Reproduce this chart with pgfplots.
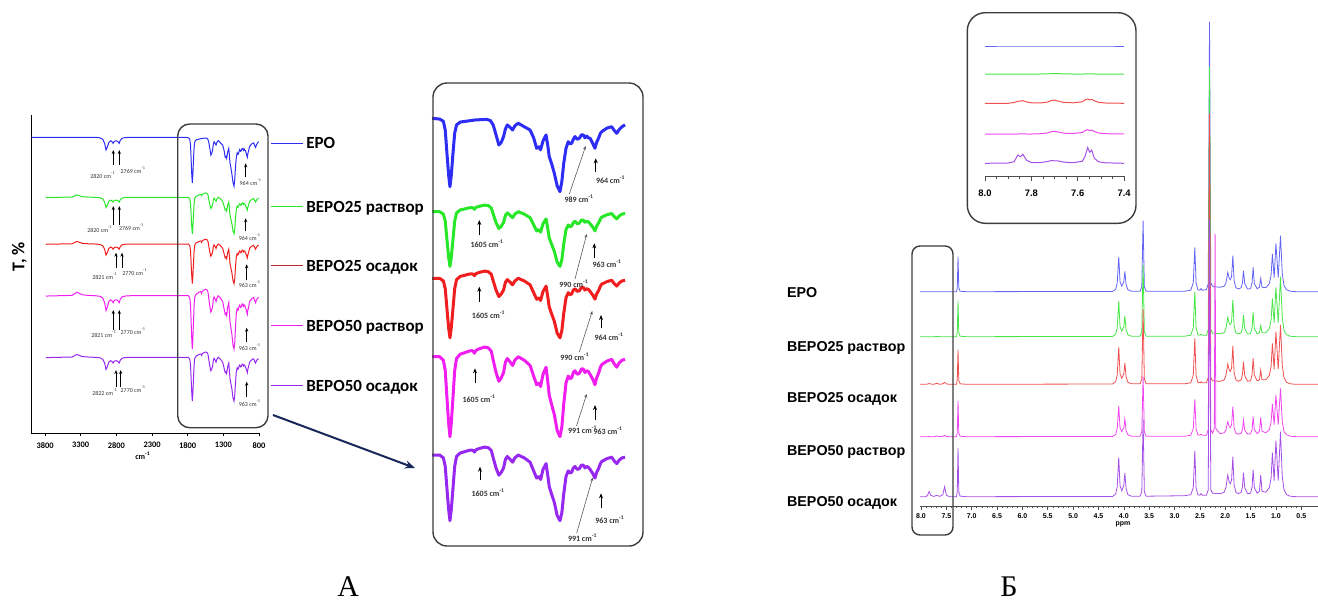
\documentclass[border=0pt]{standalone}
\usepackage{fontspec}
\setmainfont{Carlito}
\newfontfamily\carl{Carlito}
\newfontfamily\lib{Liberation Sans}
\newfontfamily\tms{Liberation Serif}
\usepackage{pgfplots}
\pgfplotsset{compat=1.18}
\usepackage{pgfplotstable}
\usetikzlibrary{arrows.meta}

\definecolor{irB}{RGB}{45,45,245}
\definecolor{irG}{RGB}{40,230,40}
\definecolor{irR}{RGB}{240,30,30}
\definecolor{irRd}{RGB}{190,40,40}
\definecolor{irM}{RGB}{240,30,240}
\definecolor{irP}{RGB}{150,40,240}
\definecolor{nB}{RGB}{100,100,245}
\definecolor{nG}{RGB}{70,230,70}
\definecolor{nR}{RGB}{240,80,80}
\definecolor{nM}{RGB}{240,70,240}
\definecolor{nP}{RGB}{165,80,230}
\definecolor{frame}{RGB}{60,60,60}
\definecolor{navy}{RGB}{25,40,90}

% IR spectrum of EPO (transmittance offsets, px units)
\pgfplotstableread{
nu T
3990 0
3100 0
3030 -0.5
2990 -2
2965 -6
2945 -12.7
2928 -10
2905 -5
2880 -3.5
2860 -4.5
2845 -6
2830 -4
2800 -3.5
2775 -4.5
2760 -6
2745 -3
2720 -1
2680 -0.3
2600 0
1830 0
1790 -0.5
1770 -2
1760 -8
1750 -25
1742 -38
1735 -45.6
1728 -38
1720 -25
1710 -10
1700 -4.4
1680 -2.5
1664 -2.2
1600 -1.1
1540 -0.7
1520 -1.5
1505 -4.5
1490 -11
1475 -17.8
1462 -16
1450 -12.2
1440 -7
1430 -4.4
1415 -6
1402 -7.8
1390 -5
1372 -3.3
1340 -5.6
1309 -7.8
1290 -13
1274 -20
1262 -19
1253 -21
1240 -15
1224 -11.1
1215 -18
1207 -25.6
1195 -30
1180 -36.7
1165 -45
1150 -48.9
1140 -42
1130 -30
1118 -20
1106 -15.6
1097 -17
1088 -16.7
1079 -14
1070 -12.2
1058 -14
1047 -13.3
1036 -11
1026 -11.1
1017 -13
1008 -11.8
999 -13
990 -13.3
975 -17
964 -20
955 -16
945 -13.3
935 -10
928 -8.9
900 -6.5
875 -5.6
862 -8
848 -10
835 -7.5
820 -5.6
804 -4.4
}\irE

% IR spectrum shape of BEPO samples
\pgfplotstableread{
nu T
3790 -0.3
3600 0
3420 0.3
3380 2
3350 3
3320 2
3280 0.8
3200 0.3
3100 0
3030 -0.5
2990 -2
2965 -6
2945 -12.7
2928 -10
2905 -5
2880 -3.5
2860 -4.5
2845 -6
2830 -4
2800 -3.5
2775 -4.5
2760 -6
2745 -3
2720 -1
2680 -0.3
2600 0
1830 0
1790 0
1770 -2
1760 -8
1750 -25
1742 -38
1735 -45.6
1728 -38
1720 -25
1710 -8
1700 -1
1680 1.5
1664 2
1640 3
1620 3.5
1610 3
1605 2
1598 3.5
1580 4.5
1550 5.5
1530 5
1515 3
1505 -2
1490 -9
1475 -14
1462 -12
1450 -9
1440 -3
1430 -1
1415 -3
1402 -5
1390 -2
1372 0
1340 -2
1309 -5
1290 -11
1274 -16
1262 -15
1253 -17
1240 -10
1224 -6
1215 -14
1207 -22
1195 -27
1180 -33
1165 -42
1150 -45.6
1140 -40
1130 -27
1118 -15
1106 -11
1097 -12.5
1088 -12
1079 -9
1070 -8
1058 -10
1047 -9.5
1036 -7
1026 -7
1017 -9
1008 -8
999 -8.5
990 -10
975 -13
964 -16
955 -12
945 -9.5
935 -6
928 -4.5
900 -2.5
875 -1.5
862 -4
848 -6
835 -3.5
820 -2
804 -1.5
}\irBt

% 1H NMR, peak heights (px) per sample
\pgfplotstableread{
ppm b g r m p
8.02 0 0 0 0 0
7.90 0 0 0 0 0
7.87 0 0 0.3 0 1.5
7.84 0 0 0.8 0.2 5.3
7.81 0 0 0.3 0 1.5
7.75 0 0 0 0 0.3
7.69 0 0.2 1 0.7 1.3
7.63 0 0 0 0 0.3
7.57 0 0 0.5 0.3 2
7.535 0 0 2 1.3 10
7.50 0 0 0.4 0.2 1.5
7.44 0 0 0 0 0
7.30 0 0 0 0 0
7.285 4 4 4 4 5
7.27 35 35.7 34.7 35.7 48.7
7.255 4 4 4 4 5
7.23 0.5 0.5 0.5 0.5 0.6
7.10 0 0 0 0 0
4.22 0.3 0.3 0.3 0.3 0.3
4.16 2.5 2.5 2.7 2.2 2.8
4.13 9 9 9.5 8 10
4.10 35 35.7 37.3 30.7 39.3
4.075 10 10 10.5 9 11
4.04 5.5 5.5 6 5 6
4.00 10 10 10.5 9 11.5
3.98 20.3 20.7 21.3 18 23.7
3.955 7 7 7.5 6 8
3.92 2 2 2 2 2
3.85 0.5 0.5 0.5 0.5 0.5
3.68 0.5 0.5 0.5 0.5 0.5
3.645 5 5 5 5 5
3.62 71 72 75 60 77
3.595 5 5 5 5 5
3.56 0.5 0.5 0.5 0.5 0.5
2.80 0.5 0.5 0.5 0.5 1
2.68 1.5 1.5 1.5 1.5 2
2.63 9 9 9 8 9
2.60 44.3 45 46 37.3 46
2.575 9 9 9 8 9
2.54 2 2 2 2 2
2.50 1.5 1.5 1.5 1.5 1.5
2.48 3 2.5 2.5 2.5 3
2.45 1.5 1.5 1.5 1.5 1.5
2.37 2 1.5 1.5 1.5 1.5
2.335 8 7 7 7 7
2.31 270 270 271 217 277
2.285 9 7 7 7 7
2.25 5.5 3.5 3.5 3.5 3.5
2.215 5 3.5 3.5 8 3.5
2.20 4.8 3.3 3.3 203 3.3
2.185 4.8 3.3 3.3 8 3.3
2.10 4.5 3 3 3 3
2.02 5.5 4 4.5 4 4.5
1.985 9 8.5 9 7 9.5
1.95 19.3 19.3 20.3 15 21.7
1.92 13 13 14 10 14.5
1.90 12 12 13 9 13
1.875 15 15 16 12 16.5
1.85 36 36.7 38.3 30 40
1.825 11 11 12 9 12
1.79 4 4 4.5 3.5 4.5
1.74 2.7 2.7 3 2.5 3
1.685 4 4 4.5 3.5 4.5
1.66 9 9 10 7 10
1.64 21 21.7 22.7 16.7 24
1.615 8 8 8.5 6.5 9
1.56 2.7 2.7 3 2.5 3
1.50 3 3 3.5 3 3.5
1.47 9 9 10 7 10
1.45 24.3 24.3 26 20 26.7
1.425 8 8 9 7 9
1.37 3 3 3.5 3 3.5
1.325 4.5 4 4.5 5.5 5.5
1.30 13.3 11 14.3 19.3 21.7
1.275 4.5 4 4.5 5.5 5.5
1.20 4 4 4.5 4 4.5
1.13 8 8 9 7 9
1.095 17 17 18 15 19
1.07 37.7 38.3 41 32.7 44
1.035 14 14 15 12 16
1.00 48.3 49.3 52.7 41.7 56
0.955 14 14 15 12 16
0.91 56 60 59.3 48.3 65
0.875 18 19 19 15 20
0.84 6 6 6.5 5 7
0.79 2 2 2 2 2
0.72 0.5 0.5 0.5 0.5 0.5
0.60 0 0 0 0 0
0.17 0 0 0 0 0
}\nmr

% 1H NMR aromatic region (inset), heights in px
\pgfplotstableread{
ppm b g r m p
8.00 0 0 0 0 0
7.90 0 0 0 0 0.3
7.875 0 0 0.8 0 1.5
7.858 0 0 2 0 8.3
7.847 0 0 2.2 0.2 6.5
7.837 0 0 2.7 0.2 9
7.82 0 0 1.3 0 3
7.80 0 0 0.5 0 0.8
7.76 0 0 0.4 0.3 0.8
7.73 0 0.2 1.2 1 1.8
7.715 0 0.3 2.7 2.3 2.7
7.70 0 0.3 3.3 2.7 2.5
7.685 0 0.3 2.2 2 2.4
7.66 0 0.2 1 0.8 1.2
7.62 0 0 0.5 0.5 0.6
7.58 0 0 1.5 1.5 2
7.568 0 0 3.5 3.5 7
7.557 0 0.2 4.3 4.3 15.7
7.548 0 0.2 3.5 3.3 11
7.54 0 0.2 4 4 13.3
7.528 0 0 2.5 2.5 5
7.51 0 0 1 1 1.5
7.48 0 0 0.3 0.3 0.5
7.40 0 0 0 0 0
}\nmrin

\begin{document}
\begin{tikzpicture}
\useasboundingbox (0,0) rectangle (659pt,-300.5pt);

% ---------- A: main IR plot ----------
\begin{axis}[
  at={(15.75pt,-216.5pt)}, anchor=south west,
  scale only axis, width=113.75pt, height=159pt,
  xmin=800, xmax=3990, x dir=reverse,
  ymin=-433, ymax=-115,
  axis x line*=bottom, axis y line*=left,
  axis line style={-, line width=0.5pt, black},
  ytick=\empty, xtick={800,1300,...,3800},
  tick align=outside, major tick length=1.5pt,
  tick style={black, line width=0.4pt},
  /pgf/number format/assume math mode=true,
  /pgf/number format/1000 sep={},
  xticklabel style={font=\carl\bfseries\fontsize{4.2}{4.2}\selectfont, inner sep=0pt, yshift=-3pt},
  clip=false,
]
\addplot[irB, line width=0.5pt] table[x=nu, y expr=\thisrow{T}-137.3] {\irE};
\addplot[irG, line width=0.5pt] table[x=nu, y expr=0.8*\thisrow{T}-197.3] {\irBt};
\addplot[irR, line width=0.5pt] table[x=nu, y expr=0.87*\thisrow{T}-244] {\irBt};
\addplot[irM, line width=0.5pt] table[x=nu, y expr=1.17*\thisrow{T}-295.7] {\irBt};
\addplot[irP, line width=0.5pt] table[x=nu, y expr=0.96*\thisrow{T}-357.3] {\irBt};
\end{axis}

% ---------- A: enlarged region ----------
\begin{axis}[
  at={(216.05pt,-41.5pt)}, anchor=north west,
  scale only axis, width=96.85pt, height=231.5pt,
  xmin=800, xmax=1830, x dir=reverse,
  ymin=-546, ymax=-83, axis lines=none, clip=false,
  every axis plot/.append style={line width=1.5pt, line join=round, restrict x to domain=800:1830},
]
\addplot[irB] table[x=nu, y expr=1.5*\thisrow{T}-118.3] {\irE};
\addplot[irG] table[x=nu, y expr=1.5*0.8*\thisrow{T}-211.7] {\irBt};
\addplot[irR] table[x=nu, y expr=1.5*0.87*\thisrow{T}-278.3] {\irBt};
\addplot[irM] table[x=nu, y expr=1.5*1.17*\thisrow{T}-356.7] {\irBt};
\addplot[irP] table[x=nu, y expr=1.5*0.96*\thisrow{T}-455] {\irBt};
\end{axis}

% ---------- Б: main NMR plot ----------
\begin{axis}[
  at={(460pt,-253.35pt)}, anchor=south west,
  scale only axis, width=199pt, height=253.35pt,
  xmin=0.17, xmax=8.02, x dir=reverse,
  ymin=-506.7, ymax=0,
  axis x line*=bottom, axis y line=none,
  axis line style={-, line width=0.4pt, black!70},
  xtick={0.5,1.0,...,8.0}, minor x tick num=4,
  tick align=outside, major tick length=1.5pt, minor tick length=0.8pt,
  tick style={black!70, line width=0.3pt},
  /pgf/number format/.cd, fixed, fixed zerofill, precision=1, assume math mode=true, /pgfplots/.cd,
  xticklabel style={font=\lib\bfseries\fontsize{3.5}{3.5}\selectfont, inner sep=0pt, yshift=-1.6pt},
  clip=false,
  every axis plot/.append style={line width=0.4pt},
]
\addplot[nB] table[x=ppm, y expr=\thisrow{b}-291.7] {\nmr};
\addplot[nG] table[x=ppm, y expr=\thisrow{g}-336.7] {\nmr};
\addplot[nR] table[x=ppm, y expr=\thisrow{r}-384.3] {\nmr};
\addplot[nM] table[x=ppm, y expr=\thisrow{m}-436.7] {\nmr};
\addplot[nP] table[x=ppm, y expr=\thisrow{p}-496.7] {\nmr};
\end{axis}

% ---------- Б: inset 8.0-7.4 ppm ----------
\begin{axis}[
  at={(492.5pt,-88.35pt)}, anchor=south west,
  scale only axis, width=70.1pt, height=78.35pt,
  xmin=7.395, xmax=8.0, x dir=reverse,
  ymin=-176.7, ymax=-20,
  axis x line*=bottom, axis y line=none,
  axis line style={-, line width=0.4pt, black!70},
  xtick={7.4,7.6,7.8,8.0}, minor xtick={7.45,7.5,...,7.95},
  tick align=outside, major tick length=2pt, minor tick length=1.3pt,
  tick style={black!70, line width=0.35pt},
  /pgf/number format/.cd, fixed, fixed zerofill, precision=1, assume math mode=true, /pgfplots/.cd,
  xticklabel style={font=\lib\bfseries\fontsize{4.7}{4.7}\selectfont, inner sep=0pt, yshift=-4.6pt},
  clip=false,
  every axis plot/.append style={line width=0.5pt},
]
\addplot[nB] table[x=ppm, y expr=\thisrow{b}-46] {\nmrin};
\addplot[nG] table[x=ppm, y expr=\thisrow{g}-74] {\nmrin};
\addplot[nR] table[x=ppm, y expr=\thisrow{r}-103.3] {\nmrin};
\addplot[nM] table[x=ppm, y expr=\thisrow{m}-134] {\nmrin};
\addplot[nP] table[x=ppm, y expr=\thisrow{p}-163.3] {\nmrin};
\end{axis}

% ---------- annotations (pixel coordinates) ----------
\begin{scope}[x=0.5pt, y=-0.5pt]
  % frames
  \draw[frame, line width=0.7pt, rounded corners=6pt] (177.7,124) rectangle (268,427.7);
  \draw[frame, line width=0.7pt, rounded corners=7pt] (433,83) rectangle (643,546);
  \draw[frame, line width=0.7pt, rounded corners=4pt] (912,246) rectangle (953,535);
  \draw[frame, line width=0.7pt, rounded corners=9pt] (967.3,12.7) rectangle (1136,223.3);
  % zoom arrow
  \draw[navy, line width=1pt, -{Stealth[length=5pt,width=4pt]}] (273,415) -- (415,468);
  % axis titles
  \node[rotate=90, font=\carl\bfseries\fontsize{9}{9}\selectfont] at (19.3,256.7) {T, \%};
  \node[font=\carl\bfseries\fontsize{4}{4}\selectfont] at (143,456) {cm\textsuperscript{-1}};
  \node[inner sep=0pt, font=\lib\bfseries\fontsize{3.5}{3.5}\selectfont] at (1123,524.5) {ppm};
  % IR legend
  \foreach \yy/\cc in {143.3/irB, 206.7/irG, 265.7/irRd, 325.7/irM, 385.7/irP}
    \draw[\cc, line width=0.6pt] (271,\yy) -- (303,\yy);
  \begin{scope}[every node/.style={anchor=base west, inner sep=0pt, font=\carl\bfseries\fontsize{8.5}{8.5}\selectfont}]
    \node at (306,148.8) {EPO};
    \node at (306,212.2) {BEPO25 раствор};
    \node at (306,271.2) {BEPO25 осадок};
    \node at (306,331.2) {BEPO50 раствор};
    \node at (306,391.2) {BEPO50 осадок};
  \end{scope}
  % NMR labels
  \begin{scope}[every node/.style={anchor=base west, inner sep=0pt, font=\lib\bfseries\fontsize{7.15}{7.15}\selectfont}]
    \node at (786.7,297.8) {EPO};
    \node at (786.7,351.1) {BEPO25 раствор};
    \node at (786.7,402.4) {BEPO25 осадок};
    \node at (786.7,455.1) {BEPO50 раствор};
    \node at (786.7,506.1) {BEPO50 осадок};
  \end{scope}
  % small arrows in the main IR plot
  \begin{scope}[line width=0.35pt, -{Stealth[length=2pt,width=1.6pt]}]
    \draw (113.3,165) -- (113.3,150); \draw (119.3,165) -- (119.3,150); \draw (245.7,176.7) -- (245.7,163.3);
    \draw (113.3,225) -- (113.3,206); \draw (119.3,225) -- (119.3,206); \draw (245.7,230.7) -- (245.7,218.3);
    \draw (116,268.3) -- (116,252.7); \draw (122,268.3) -- (122,252.7); \draw (246.7,280) -- (246.7,264.3);
    \draw (113.3,330) -- (113.3,310); \draw (119.3,330) -- (119.3,310); \draw (246.7,341.7) -- (246.7,327.7);
    \draw (116,386.7) -- (116,370); \draw (120.7,386.7) -- (120.7,370); \draw (246.7,396.7) -- (246.7,381.7);
  \end{scope}
  \begin{scope}[every node/.style={inner sep=0pt, font=\carl\fontsize{3}{3}\selectfont, black!80}]
    \node at (103,175) {2820 cm\textsuperscript{-1}}; \node at (133.3,170) {2769 cm\textsuperscript{-1}}; \node at (250.8,181.7) {964 cm\textsuperscript{-1}};
    \node at (100,229.3) {2820 cm\textsuperscript{-1}}; \node at (131.7,227.3) {2769 cm\textsuperscript{-1}}; \node at (250,236.7) {964 cm\textsuperscript{-1}};
    \node at (105,275.7) {2821 cm\textsuperscript{-1}}; \node at (135,271.7) {2770 cm\textsuperscript{-1}}; \node at (250,284) {963 cm\textsuperscript{-1}};
    \node at (104,334) {2821 cm\textsuperscript{-1}}; \node at (133.3,330.7) {2770 cm\textsuperscript{-1}}; \node at (250,347.3) {963 cm\textsuperscript{-1}};
    \node at (105,391.7) {2822 cm\textsuperscript{-1}}; \node at (133.3,389.3) {2770 cm\textsuperscript{-1}}; \node at (250,402.7) {963 cm\textsuperscript{-1}};
  \end{scope}
  % arrows in the enlarged IR region
  \begin{scope}[line width=0.4pt, -{Stealth[length=2.5pt,width=2pt]}]
    \draw (595.7,171.7) -- (595.7,158.3);
    \draw (479.3,235) -- (479.3,220); \draw (594.3,258.3) -- (594.3,243.3);
    \draw (479.3,301.7) -- (479.3,286.7); \draw (601,328.3) -- (601,315);
    \draw (475,383.3) -- (475,368.3); \draw (595,420) -- (595,405);
    \draw (480,480) -- (480,466.7); \draw (601,508.3) -- (601,493.3);
  \end{scope}
  \begin{scope}[line width=0.3pt, black!65, -{Stealth[length=1.8pt,width=1.5pt]}]
    \draw (569.3,194) -- (585.7,146);
    \draw (575,279) -- (586.7,234);
    \draw (579.3,352) -- (592.3,311);
    \draw (576.5,426) -- (586.7,394);
    \draw (576.7,533) -- (592.7,477.5);
  \end{scope}
  \begin{scope}[every node/.style={inner sep=0pt, font=\carl\bfseries\fontsize{4}{4}\selectfont, black!80}]
    \node at (610.7,179.3) {964 cm\textsuperscript{-1}};
    \node at (579.3,198.3) {989 cm\textsuperscript{-1}};
    \node at (487.3,244) {1605 cm\textsuperscript{-1}};
    \node at (574,283.3) {990 cm\textsuperscript{-1}};
    \node at (607.3,263.3) {963 cm\textsuperscript{-1}};
    \node at (488.7,315) {1605 cm\textsuperscript{-1}};
    \node at (575,356.7) {990 cm\textsuperscript{-1}};
    \node at (609.3,336.7) {964 cm\textsuperscript{-1}};
    \node at (479.3,398.3) {1605 cm\textsuperscript{-1}};
    \node at (582.7,430) {991 cm\textsuperscript{-1}};
    \node at (608.3,431) {963 cm\textsuperscript{-1}};
    \node at (488.3,492.3) {1605 cm\textsuperscript{-1}};
    \node at (582.7,537.3) {991 cm\textsuperscript{-1}};
    \node at (610,520) {963 cm\textsuperscript{-1}};
  \end{scope}
  % panel letters
  \node[anchor=base, inner sep=0pt, font=\tms\fontsize{15}{15}\selectfont] at (348.3,596.7) {А};
  \node[anchor=base, inner sep=0pt, font=\tms\fontsize{15}{15}\selectfont] at (1009,596.7) {Б};
\end{scope}
\end{tikzpicture}
\end{document}
